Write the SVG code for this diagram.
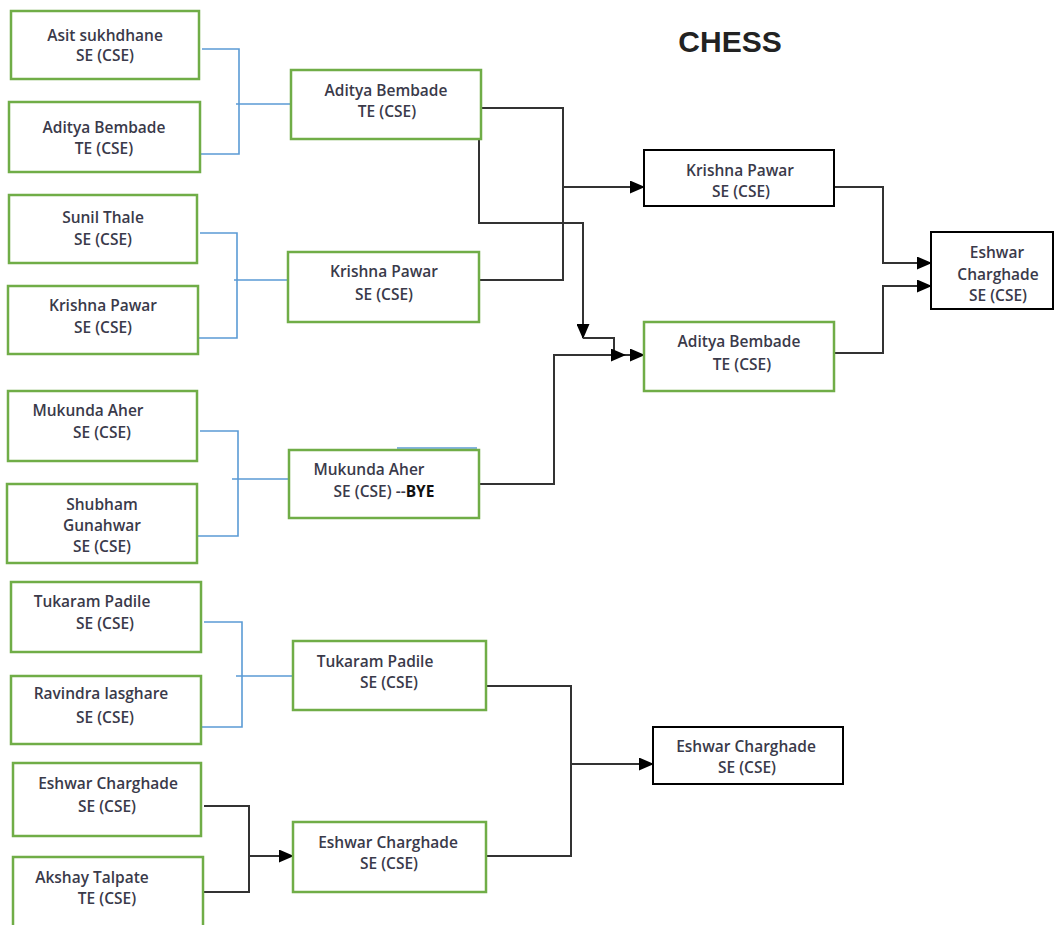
<svg xmlns="http://www.w3.org/2000/svg" width="1054" height="925" viewBox="0 0 1054 925">
<style>
.g{fill:#fff;stroke:#70ad47;stroke-width:2.5}
.k{fill:#fff;stroke:#000;stroke-width:2}
text{font-family:"Open Sans","Liberation Sans",sans-serif;font-size:15.5px;font-weight:600;fill:#3a3a4a;text-anchor:middle}
.t{font-family:"Liberation Sans",Arial,sans-serif;font-size:30px;font-weight:bold;fill:#222}
.b{fill:none;stroke:#5b9bd5;stroke-width:1.6}
.c{fill:none;stroke:#333;stroke-width:2}
.a{marker-end:url(#ah)}
</style>
<defs>
<marker id="ah" markerUnits="userSpaceOnUse" markerWidth="15" markerHeight="13" refX="14" refY="6.5" orient="auto">
<path d="M0,0 L15,6.5 L0,13 Z" fill="#000"/>
</marker>
</defs>
<rect width="1054" height="925" fill="#fff"/>
<text class="t" x="730" y="52">CHESS</text>

<g id="connectors">
<path class="b" d="M202,49 H239 V154 H201 M236,104 H291"/>
<path class="b" d="M200,233 H237 V338 H198 M234,280 H288"/>
<path class="b" d="M200,431 H238 V536 H197 M232,479 H289"/>
<path class="b" d="M397,448 H477"/>
<path class="b" d="M204,622 H242 V727 H201 M236,676 H293"/>
<path class="c" d="M204,806 H249 V892 H200"/>
<path class="c a" d="M249,856 H293"/>
<path class="c" d="M481,108 H563 V280 H479"/>
<path class="c a" d="M563,187 H644"/>
<path class="c a" d="M479,139 V223 H583 V338"/>
<path class="c a" d="M583,338 H614 V355 H644"/>
<path class="c a" d="M479,484 H554 V355 H625"/>
<path class="c a" d="M834,187 H883 V263 H931"/>
<path class="c a" d="M834,353 H883 V286 H931"/>
<path class="c" d="M486,686 H571 V856 H486"/>
<path class="c a" d="M571,764 H653"/>
</g>

<g id="n1"><rect class="g" x="11" y="11" width="188" height="68"/><text x="105" y="41">Asit sukhdhane</text><text x="105" y="61">SE (CSE)</text></g>
<g id="n2"><rect class="g" x="9" y="102" width="191" height="70"/><text x="104" y="133">Aditya Bembade</text><text x="104" y="154">TE (CSE)</text></g>
<g id="n3"><rect class="g" x="9" y="195" width="188" height="68"/><text x="103" y="223">Sunil Thale</text><text x="103" y="245">SE (CSE)</text></g>
<g id="n4"><rect class="g" x="8" y="286" width="190" height="68"/><text x="103" y="311">Krishna Pawar</text><text x="103" y="333">SE (CSE)</text></g>
<g id="n5"><rect class="g" x="8" y="391" width="189" height="70"/><text x="88" y="416">Mukunda Aher</text><text x="102" y="438">SE (CSE)</text></g>
<g id="n6"><rect class="g" x="7" y="484" width="190" height="79"/><text x="102" y="510">Shubham</text><text x="102" y="531">Gunahwar</text><text x="102" y="552">SE (CSE)</text></g>
<g id="n7"><rect class="g" x="11" y="582" width="190" height="70"/><text x="92" y="607">Tukaram Padile</text><text x="105" y="629">SE (CSE)</text></g>
<g id="n8"><rect class="g" x="11" y="676" width="190" height="68"/><text x="101" y="699">Ravindra lasghare</text><text x="105" y="723">SE (CSE)</text></g>
<g id="n9"><rect class="g" x="13" y="763" width="188" height="73"/><text x="108" y="789">Eshwar Charghade</text><text x="107" y="812">SE (CSE)</text></g>
<g id="n10"><rect class="g" x="13" y="857" width="190" height="75"/><text x="92" y="883">Akshay Talpate</text><text x="107" y="904">TE (CSE)</text></g>

<g id="n11"><rect class="g" x="291" y="70" width="190" height="69"/><text x="386" y="96">Aditya Bembade</text><text x="387" y="117">TE (CSE)</text></g>
<g id="n12"><rect class="g" x="288" y="252" width="191" height="70"/><text x="384" y="277">Krishna Pawar</text><text x="384" y="300">SE (CSE)</text></g>
<g id="n13"><rect class="g" x="289" y="450" width="190" height="68"/><text x="369" y="475">Mukunda Aher</text><text x="384" y="497">SE (CSE) --<tspan font-weight="bold" fill="#111">BYE</tspan></text></g>
<g id="n14"><rect class="g" x="293" y="641" width="193" height="69"/><text x="375" y="667">Tukaram Padile</text><text x="389" y="688">SE (CSE)</text></g>
<g id="n15"><rect class="g" x="293" y="822" width="193" height="70"/><text x="388" y="848">Eshwar Charghade</text><text x="389" y="869">SE (CSE)</text></g>

<g id="n16"><rect class="k" x="644" y="150" width="190" height="56"/><text x="740" y="176">Krishna Pawar</text><text x="741" y="197">SE (CSE)</text></g>
<g id="n17"><rect class="g" x="644" y="322" width="190" height="69"/><text x="739" y="347">Aditya Bembade</text><text x="742" y="370">TE (CSE)</text></g>
<g id="n18"><rect class="k" x="653" y="727" width="190" height="57"/><text x="746" y="752">Eshwar Charghade</text><text x="747" y="773">SE (CSE)</text></g>
<g id="n19"><rect class="k" x="931" y="232" width="122" height="77"/><text x="997" y="258">Eshwar</text><text x="998" y="280">Charghade</text><text x="998" y="301">SE (CSE)</text></g>
</svg>
